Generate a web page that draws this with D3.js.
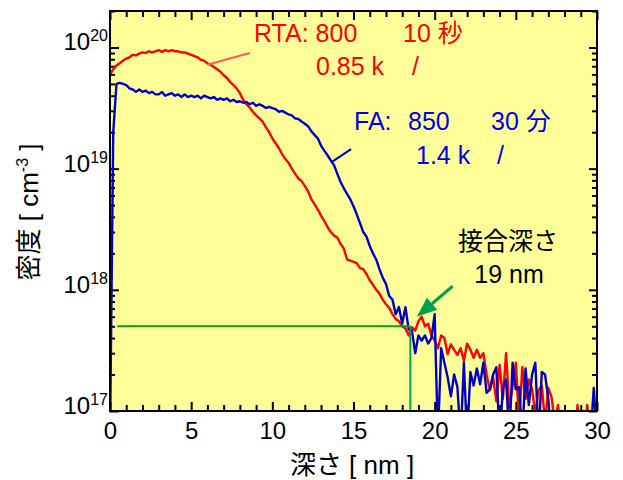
<!DOCTYPE html>
<html>
<head>
<meta charset="utf-8">
<script src="https://cdn.jsdelivr.net/npm/d3@7"></script>
<style>
  body { margin: 0; background: #fff; }
  text { font-family: "Liberation Sans", Arial, "Noto Sans CJK JP", sans-serif; }
</style>
</head>
<body>
<svg id="chart" width="623" height="480"></svg>
<script>
// SIMS depth profiles, one sample every 0.2 nm from 0 to 30 nm
const depthStep = 0.2;

// RTA: 800, 10 s, 0.85 k
const rtaDensity = [
  6.0e19, 6.6e19, 7.1e19, 7.4e19, 7.8e19, 8.1e19, 8.3e19, 8.7e19, 8.6e19, 8.9e19,
  9.1e19, 9.0e19, 9.3e19, 9.1e19, 9.3e19, 9.5e19, 9.2e19, 9.5e19, 9.3e19, 9.5e19,
  9.3e19, 9.3e19, 9.1e19, 9.1e19, 8.9e19, 8.7e19, 8.5e19, 8.3e19, 7.9e19, 7.8e19,
  7.4e19, 7.2e19, 6.9e19, 6.6e19, 6.3e19, 5.9e19, 5.6e19, 5.2e19, 4.9e19, 4.6e19,
  4.2e19, 3.7e19, 3.4e19, 3.2e19, 2.95e19, 2.75e19, 2.6e19, 2.45e19, 2.2e19, 2.0e19,
  1.78e19, 1.62e19, 1.48e19, 1.32e19, 1.2e19, 1.12e19, 1.0e19, 9.1e18, 8.3e18, 7.9e18,
  7.2e18, 6.5e18, 5.6e18, 5.1e18, 4.6e18, 4.1e18, 3.7e18, 3.3e18, 3.0e18, 2.8e18,
  2.7e18, 2.4e18, 2.2e18, 1.78e18, 1.74e18, 1.7e18, 1.66e18, 1.51e18, 1.48e18, 1.35e18,
  1.2e18, 1.1e18, 1.0e18, 9.3e17, 8.3e17, 7.6e17, 7.1e17, 6.3e17, 5.75e17, 5.5e17,
  5.0e17, 4.8e17, 4.2e17, 4.9e17, 4.6e17, 5.5e17, 6.0e17, 5.0e17, 5.25e17, 4.2e17,
  3.8e17, 3.3e17, 4.2e17, 4.0e17, 2.95e17, 3.55e17, 3.2e17, 2.9e17, 3.3e17, 2.6e17,
  3.6e17, 3.2e17, 2.75e17, 3.2e17, 2.75e17, 3.0e17, 2.0e17, 1.48e17, 1.9e17, 1.2e17,
  2.4e17, 1.26e17, 3.0e17, 1.07e17, 1.58e17, 2.5e17, 8e16, 2.3e17, 1.26e17, 1.82e17,
  1.51e17, 9.5e16, 1.48e17, 1.62e17, 8e16, 1.55e17, 1.3e17, 8e16, 1.12e17, 6e16,
  6e16, 6e16, 6e16, 6e16, 1.12e17, 6e16, 6e16, 1.12e17, 6e16, 6e16,
  6e16
];

// FA: 850, 30 min, 1.4 k
const faDensity = [
  6e16, 2.0e19, 5.0e19, 5.1e19, 5.0e19, 4.9e19, 4.6e19, 4.5e19, 4.3e19, 4.5e19,
  4.3e19, 4.4e19, 4.2e19, 4.3e19, 4.1e19, 4.1e19, 4.3e19, 4.0e19, 4.1e19, 4.2e19,
  4.0e19, 4.1e19, 3.9e19, 4.1e19, 3.9e19, 4.0e19, 3.9e19, 4.0e19, 3.8e19, 4.0e19,
  3.9e19, 3.8e19, 3.9e19, 3.7e19, 3.8e19, 3.7e19, 3.8e19, 3.6e19, 3.7e19, 3.55e19,
  3.6e19, 3.5e19, 3.55e19, 3.4e19, 3.5e19, 3.3e19, 3.4e19, 3.3e19, 3.16e19, 3.24e19,
  3.16e19, 3.1e19, 2.95e19, 3.0e19, 2.9e19, 2.8e19, 2.75e19, 2.6e19, 2.57e19, 2.45e19,
  2.35e19, 2.24e19, 2.04e19, 1.9e19, 1.78e19, 1.55e19, 1.41e19, 1.29e19, 1.17e19, 1.07e19,
  9.1e18, 7.8e18, 6.9e18, 6.2e18, 5.6e18, 4.9e18, 4.2e18, 3.55e18, 3.0e18, 2.75e18,
  2.3e18, 2.0e18, 1.78e18, 1.48e18, 1.26e18, 1.12e18, 8.9e17, 8.3e17, 6.3e17, 7.2e17,
  5.25e17, 7.2e17, 4.7e17, 4.6e17, 3.0e17, 4.2e17, 3.8e17, 4.2e17, 3.6e17, 4.0e17,
  6.3e17, 6e16, 3.3e17, 2.5e17, 1.9e17, 1.32e17, 2.0e17, 1.58e17, 6e16, 2.5e17,
  6e16, 2.1e17, 1.62e17, 2.24e17, 1.66e17, 2.5e17, 1.41e17, 1.51e17, 2.0e17, 2.3e17,
  6e16, 1.51e17, 1.82e17, 6e16, 2.5e17, 1.51e17, 1.58e17, 6e16, 2.24e17, 1.12e17,
  2.0e17, 2.5e17, 6e16, 2.1e17, 2.0e17, 1.26e17, 6e16, 6e16, 6e16, 6e16,
  6e16, 6e16, 6e16, 6e16, 6e16, 6e16, 6e16, 6e16, 6e16, 1.55e17,
  6e16
];

const xTicks = [0, 5, 10, 15, 20, 25, 30];
const xMinorTicks = [1, 2, 3, 4, 6, 7, 8, 9, 11, 12, 13, 14, 16, 17, 18, 19, 21, 22, 23, 24, 26, 27, 28, 29];
const yTicks = [1e17, 1e18, 1e19, 1e20];
const yTickExponents = ["17", "18", "19", "20"];
const yMinorTicks = [2, 3, 4, 5, 6, 7, 8, 9].flatMap(m => [m * 1e17, m * 1e18, m * 1e19]).concat([2e20]);

// junction depth marker
const junctionDensity = 5e17;
const junctionDepth = 18.5;
const junctionStart = 0.45;

// pointer lines from the legends to the curves, in [nm, cm-3]
const rtaPointer = [[6.0, 7.2e19], [8.6, 9.0e19]];
const faPointer = [[13.6, 1.12e19], [14.85, 1.45e19]];
const junctionArrow = [[21.1, 1.07e18], [18.9, 6.0e17]];

let layout = {"width": 623, "height": 480,
              "marginTop": 11, "marginRight": 26,
              "marginBottom": 69, "marginLeft": 110};

const svg = d3.select("#chart");

const xScale = d3.scaleLinear()
  .domain([0, 30])
  .range([layout.marginLeft, layout.width - layout.marginRight]);

const yScale = d3.scaleLog()
  .domain([1e17, 2e20])
  .range([layout.height - layout.marginBottom, layout.marginTop]);

const plotW = xScale.range()[1] - xScale.range()[0];
const plotH = yScale.range()[0] - yScale.range()[1];

svg.append("rect")
  .attr("x", layout.marginLeft).attr("y", layout.marginTop)
  .attr("width", plotW).attr("height", plotH)
  .attr("fill", "#ffff99");

svg.append("defs").append("clipPath").attr("id", "plotClip")
  .append("rect")
  .attr("x", layout.marginLeft).attr("y", layout.marginTop)
  .attr("width", plotW).attr("height", plotH);

// ticks, all pointing inward
function styleTicks(g) {
  g.select(".domain").remove();
  g.selectAll("line").attr("stroke", "#000").attr("stroke-width", 2);
}
const bottomY = layout.height - layout.marginBottom;
const rightX = layout.width - layout.marginRight;

svg.append("g").attr("transform", `translate(0,${bottomY})`)
  .call(d3.axisBottom(xScale).tickValues(xTicks).tickSize(-9).tickPadding(11))
  .call(styleTicks)
  .call(g => g.selectAll("text").attr("font-size", 24).attr("font-family", null).attr("fill", "#000"));
svg.append("g").attr("transform", `translate(0,${bottomY})`)
  .call(d3.axisBottom(xScale).tickValues(xMinorTicks).tickSize(-6).tickFormat(""))
  .call(styleTicks);
svg.append("g").attr("transform", `translate(0,${layout.marginTop})`)
  .call(d3.axisTop(xScale).tickValues(xTicks).tickSize(-9).tickFormat(""))
  .call(styleTicks);
svg.append("g").attr("transform", `translate(0,${layout.marginTop})`)
  .call(d3.axisTop(xScale).tickValues(xMinorTicks).tickSize(-6).tickFormat(""))
  .call(styleTicks);

svg.append("g").attr("transform", `translate(${layout.marginLeft},0)`)
  .call(d3.axisLeft(yScale).tickValues(yTicks).tickSize(-9).tickFormat(""))
  .call(styleTicks);
svg.append("g").attr("transform", `translate(${layout.marginLeft},0)`)
  .call(d3.axisLeft(yScale).tickValues(yMinorTicks).tickSize(-5).tickFormat(""))
  .call(styleTicks);
svg.append("g").attr("transform", `translate(${rightX},0)`)
  .call(d3.axisRight(yScale).tickValues(yTicks).tickSize(-8).tickFormat(""))
  .call(styleTicks);
svg.append("g").attr("transform", `translate(${rightX},0)`)
  .call(d3.axisRight(yScale).tickValues(yMinorTicks).tickSize(-5).tickFormat(""))
  .call(styleTicks);

// y tick labels as 10^n
const yLabels = svg.append("g").selectAll("text")
  .data(yTicks)
  .join("text")
  .attr("x", layout.marginLeft - 2)
  .attr("y", d => yScale(d) + 3)
  .attr("text-anchor", "end")
  .attr("fill", "#000");
yLabels.append("tspan").attr("font-size", 24).text("10");
yLabels.append("tspan").attr("font-size", 16).attr("dy", -9).text((d, i) => yTickExponents[i]);

// profiles
const line = d3.line()
  .x((d, i) => xScale(i * depthStep))
  .y(d => yScale(d));

const curves = svg.append("g").attr("clip-path", "url(#plotClip)");

curves.append("path")
  .attr("d", line(rtaDensity))
  .attr("fill", "none").attr("stroke", "#ff0000")
  .attr("stroke-width", 2.4).attr("stroke-linejoin", "round");

curves.append("path")
  .attr("d", line(faDensity))
  .attr("fill", "none").attr("stroke", "#0000c8")
  .attr("stroke-width", 2.4).attr("stroke-linejoin", "round");

// junction depth guide lines
curves.append("line")
  .attr("x1", xScale(junctionStart)).attr("x2", xScale(junctionDepth))
  .attr("y1", yScale(junctionDensity)).attr("y2", yScale(junctionDensity))
  .attr("stroke", "#119a11").attr("stroke-width", 2);
curves.append("line")
  .attr("x1", xScale(junctionDepth)).attr("x2", xScale(junctionDepth))
  .attr("y1", yScale(junctionDensity)).attr("y2", yScale(1e17))
  .attr("stroke", "#00a050").attr("stroke-width", 2);

// frame
svg.append("rect")
  .attr("x", layout.marginLeft).attr("y", layout.marginTop)
  .attr("width", plotW).attr("height", plotH)
  .attr("fill", "none").attr("stroke", "#000").attr("stroke-width", 2);

// pointers
const ptLine = d3.line().x(d => xScale(d[0])).y(d => yScale(d[1]));
svg.append("path").attr("d", ptLine(rtaPointer))
  .attr("stroke", "#ff5a5a").attr("stroke-width", 2).attr("fill", "none");
svg.append("path").attr("d", ptLine(faPointer))
  .attr("stroke", "#0000c8").attr("stroke-width", 2).attr("fill", "none");

// green arrow to junction
const tail = [xScale(junctionArrow[0][0]), yScale(junctionArrow[0][1])];
const tip = [xScale(junctionArrow[1][0]), yScale(junctionArrow[1][1])];
const ang = Math.atan2(tip[1] - tail[1], tip[0] - tail[0]);
const headLen = 20, headHalf = 8;
const base = [tip[0] - headLen * Math.cos(ang), tip[1] - headLen * Math.sin(ang)];
svg.append("line")
  .attr("x1", tail[0]).attr("y1", tail[1])
  .attr("x2", base[0]).attr("y2", base[1])
  .attr("stroke", "#00a050").attr("stroke-width", 3);
svg.append("path")
  .attr("d", `M${tip[0]},${tip[1]}L${base[0] + headHalf * Math.sin(ang)},${base[1] - headHalf * Math.cos(ang)}L${base[0] - headHalf * Math.sin(ang)},${base[1] + headHalf * Math.cos(ang)}Z`)
  .attr("fill", "#00a050");

// legend texts
function label(txt, x, y, color, anchor) {
  svg.append("text")
    .attr("x", x).attr("y", y)
    .attr("font-size", 25)
    .attr("fill", color)
    .attr("text-anchor", anchor || "start")
    .text(txt);
}
label("RTA: 800", 254, 42, "#ff0000");
label("10 秒", 403, 42, "#ff0000");
label("0.85 k", 316, 75, "#ff0000");
label("/", 412, 75, "#ff0000");
label("FA:", 354, 130, "#0000e6");
label("850", 408, 130, "#0000e6");
label("30 分", 491, 130, "#0000e6");
label("1.4 k", 416, 164, "#0000e6");
label("/", 497, 164, "#0000e6");
label("接合深さ", 508, 250, "#000", "middle");
label("19 nm", 509, 283, "#000", "middle");

// axis titles
svg.append("text")
  .attr("x", 352).attr("y", 474)
  .attr("text-anchor", "middle")
  .attr("font-size", 26)
  .text("深さ [ nm ]");

const yTitle = svg.append("text")
  .attr("transform", "translate(38,212) rotate(-90)")
  .attr("text-anchor", "middle")
  .attr("font-size", 26);
yTitle.append("tspan").text("密度 [ cm");
yTitle.append("tspan").attr("font-size", 16).attr("dy", -10).text("-3");
yTitle.append("tspan").attr("dy", 10).text(" ]");
</script>
</body>
</html>
